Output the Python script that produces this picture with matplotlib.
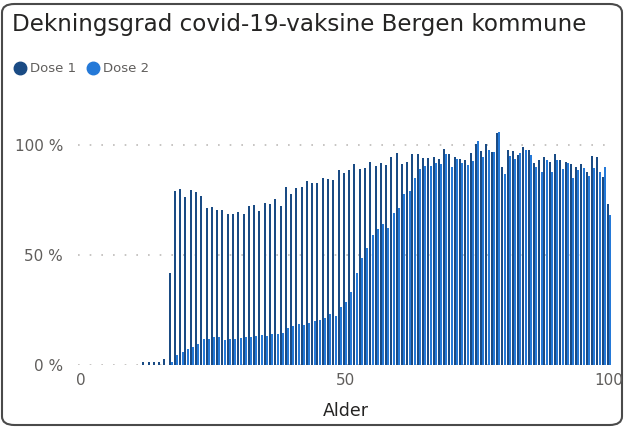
import matplotlib
matplotlib.use('Agg')
import matplotlib.pyplot as plt
from matplotlib.patches import FancyBboxPatch
from matplotlib.lines import Line2D
import numpy as np

# Data (percent coverage by age)
ages = list(range(0, 101))
dose1 = [0] * 12 + [
    1.2, 1.2, 1.2, 1.2, 2.6, 42.0, 79.2, 79.8, 76.2, 79.5,   # 12-21
    78.5, 76.7, 71.5, 72.0, 70.6, 70.6, 68.5, 68.8, 69.7, 68.5,  # 22-31
    72.1, 72.6, 70.1, 73.8, 73.3, 75.6, 72.1, 80.8, 77.6, 80.3,  # 32-41
    81.0, 83.5, 82.7, 82.7, 85.0, 84.7, 84.1, 88.8, 87.1, 88.8,  # 42-51
    91.5, 89.1, 89.4, 92.4, 90.6, 91.7, 90.9, 94.7, 96.2, 91.2,  # 52-61
    92.4, 95.9, 95.9, 94.2, 94.2, 94.7, 93.6, 98.2, 95.9, 94.4,  # 62-71
    93.6, 93.2, 96.2, 100.5, 97.4, 100.3, 97.0, 105.3, 89.8, 97.7,  # 72-81
    97.4, 95.5, 98.9, 97.7, 92.0, 93.0, 94.4, 92.4, 95.8, 93.2,  # 82-91
    92.4, 91.2, 90.2, 91.2, 87.9, 95.1, 94.4, 85.3, 73.0,        # 92-100
]
dose2 = [0] * 17 + [
    1.5, 4.5, 5.9, 7.1, 8.2,                                     # 17-21
    9.4, 11.7, 11.7, 12.9, 12.9, 11.4, 11.8, 11.8, 12.4, 12.9,   # 22-31
    12.9, 13.3, 13.6, 13.3, 14.1, 14.0, 14.4, 16.7, 17.7, 18.5,  # 32-41
    18.2, 19.0, 20.0, 20.5, 21.2, 23.0, 22.4, 26.2, 28.8, 33.3,  # 42-51
    41.7, 48.5, 53.0, 59.2, 61.8, 64.1, 62.1, 68.9, 71.2, 77.7,  # 52-61
    79.2, 84.8, 89.1, 90.5, 90.5, 92.0, 91.4, 95.9, 90.2, 93.6,  # 62-71
    91.7, 91.0, 92.9, 102.0, 94.7, 97.7, 96.7, 106.0, 86.8, 95.1,  # 72-81
    93.5, 96.2, 97.7, 95.5, 90.2, 87.9, 93.2, 87.9, 93.2, 88.9,  # 82-91
    91.7, 84.8, 88.6, 89.7, 85.9, 89.7, 87.9, 90.0, 68.2,        # 92-100
]
series_names = ['Dose 1', 'Dose 2']
series_colors = ['#1A4B84', '#2479D8']
yticks = [0, 50, 100]
ytick_labels = ['0 %', '50 %', '100 %']
xticks = [0, 50, 100]

W, H = 625, 428
fig = plt.figure(figsize=(W / 100, H / 100), dpi=100)
fig.patch.set_facecolor('white')


def fx(px):
    return px / W


def fy(py):
    return 1 - py / H


# card border
card = FancyBboxPatch((fx(2), fy(425)), fx(620), 421 / H,
                      boxstyle='round,pad=0,rounding_size=0.02',
                      transform=fig.transFigure, facecolor='white',
                      edgecolor='#4A4A4A', linewidth=1.5, zorder=0)
fig.add_artist(card)

left, right, top, bottom = 78.4, 612.7, 123, 365
ax = fig.add_axes([fx(left), fy(bottom), fx(right - left), (bottom - top) / H])
ax.set_facecolor('none')

x = np.array(ages)
bw = 0.38
ax.bar(x - 0.22, dose1, width=bw, color=series_colors[0], zorder=3, linewidth=0)
ax.bar(x + 0.22, dose2, width=bw, color=series_colors[1], zorder=3, linewidth=0)

ax.set_xlim(-0.5, 100.7)
ax.set_ylim(0, 110)
ax.set_yticks(yticks)
ax.set_yticklabels(ytick_labels)
ax.set_xticks(xticks)
for s in ax.spines.values():
    s.set_visible(False)
ax.tick_params(length=0, colors='#605E5C', labelsize=11)
ax.tick_params(axis='y', pad=11)
ax.tick_params(axis='x', pad=6)
ax.yaxis.grid(True, color='#BDBBB9', linestyle=(0, (1, 6)), linewidth=1.2, zorder=0)
ax.set_xlabel('Alder', fontsize=12.5, color='#252423', labelpad=10)

# title
fig.text(fx(12), fy(24), 'Dekningsgrad covid-19-vaksine Bergen kommune',
         fontsize=16.6, color='#252423', va='center', ha='left')

# legend
lx = [20, 93]
for name, col, px in zip(series_names, series_colors, lx):
    fig.add_artist(Line2D([fx(px)], [fy(68)], marker='o', markersize=9,
                          color=col, linestyle='none', transform=fig.transFigure))
    fig.text(fx(px + 10), fy(68), name, fontsize=9.5, color='#605E5C',
             va='center', ha='left')

fig.savefig('out.png', dpi=100)
